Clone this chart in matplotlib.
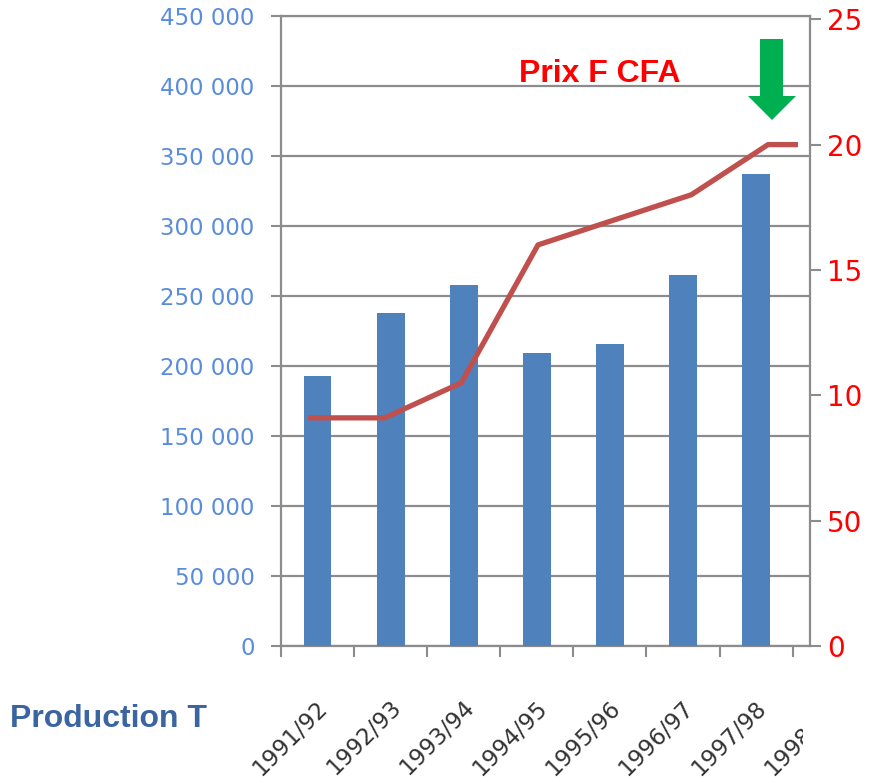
import numpy as np
import matplotlib
matplotlib.use('Agg')
import matplotlib.pyplot as plt
from matplotlib.patches import Polygon
from matplotlib.transforms import Bbox, TransformedBbox, ScaledTranslation

# data
categories = ['1991/92', '1992/93', '1993/94', '1994/95', '1995/96', '1996/97', '1997/98', '1998/99']
production = [193000, 238000, 258000, 209000, 216000, 265000, 337000]   # tonnes, left axis
prix = [91, 91, 105, 160, 170, 180, 200, 200]                          # F CFA, right axis
left_ticks = [0, 50000, 100000, 150000, 200000, 250000, 300000, 350000, 400000, 450000]
right_ticks = [0, 50, 100, 150, 200, 250]

W, H = 872, 783
GRID = '#8C8C8C'
BAR = '#4F81BD'
LINE = '#C0504D'


def fx(px):
    return px / W


def fy(py):
    return 1 - py / H


fig = plt.figure(figsize=(W / 100, H / 100), dpi=100)

# main axes (plot area in pixels: x 281..810, y 16..646)
ax = fig.add_axes([fx(281), fy(646), fx(810) - fx(281), fy(16) - fy(646)])
x = np.arange(len(production))
ax.bar(x, production, width=0.38, color=BAR, zorder=3)
ax.set_xlim(-0.5, 6.737)
ax.set_ylim(0, 450000)
ax.set_yticks(left_ticks)
ax.set_yticklabels([f'{v:,.0f}'.replace(',', ' ') for v in left_ticks],
                   fontsize=16.5, color='#5A8CDC')
ax.yaxis.grid(True, color=GRID, lw=1.6, zorder=0)
ax.set_axisbelow(True)
ax.tick_params(axis='y', direction='out', length=7, width=1.5, color=GRID, pad=12)
ax.set_xticks(np.arange(-0.5, 7, 1))
ax.set_xticklabels([])
ax.tick_params(axis='x', direction='out', length=8, width=1.5, color=GRID)
for s in ax.spines.values():
    s.set_color(GRID)
    s.set_linewidth(1.6)

# category labels, rotated, last one cut like in the source
off = ScaledTranslation(-1 / 72, -36 / 72, fig.dpi_scale_trans)
clip = TransformedBbox(Bbox([[0, 0], [fx(803), 1]]), fig.transFigure)
for i, lab in enumerate(categories):
    t = ax.text(i, 0, lab, transform=ax.get_xaxis_transform() + off,
                rotation=45, ha='right', va='top', rotation_mode='anchor',
                fontsize=16.5, color='#333333', clip_on=False)
    if i == len(categories) - 1:
        t.set_clip_box(clip)
        t.set_clip_on(True)

# right axis for the price (labels cropped at the right edge as in the source)
ax2 = ax.twinx()
ax2.set_ylim(0, 251.3)
ax2.set_yticks(right_ticks)
ax2.set_yticklabels([str(v) for v in right_ticks], fontsize=20, color='#FF0000')
ax2.tick_params(axis='y', direction='out', length=8, width=1.5, color=GRID, pad=4)
for s in ax2.spines.values():
    s.set_visible(False)
rclip = TransformedBbox(Bbox([[0, 0], [fx(863), 1]]), fig.transFigure)
for lbl in ax2.get_yticklabels():
    lbl.set_clip_box(rclip)
    lbl.set_clip_on(True)

# price line sits on its own (hidden) category scale
ax3 = fig.add_axes([fx(282), fy(646), fx(798) - fx(282), fy(16) - fy(646)])
ax3.set_xlim(-0.339, 6.391)
ax3.set_ylim(0, 251.3)
ax3.axis('off')
ax3.patch.set_alpha(0)
ax3.plot(np.arange(len(prix)), prix, color=LINE, lw=3.8,
         solid_capstyle='butt', solid_joinstyle='round')

# annotations
fig.text(fx(519), fy(82), 'Prix F CFA', color='#FF0000', fontsize=23,
         fontweight='bold', family='Liberation Sans', va='baseline')
fig.text(fx(10), fy(727), 'Production T', color='#3B65A0', fontsize=23,
         fontweight='bold', family='Liberation Sans', va='baseline')

arrow_px = [(760, 39), (783, 39), (783, 96), (796, 96), (772, 120), (748, 96), (760, 96)]
fig.add_artist(Polygon([(fx(a), fy(b)) for a, b in arrow_px], closed=True,
                       transform=fig.transFigure, color='#00B050', lw=0))

plt.savefig('out.png', dpi=100)
